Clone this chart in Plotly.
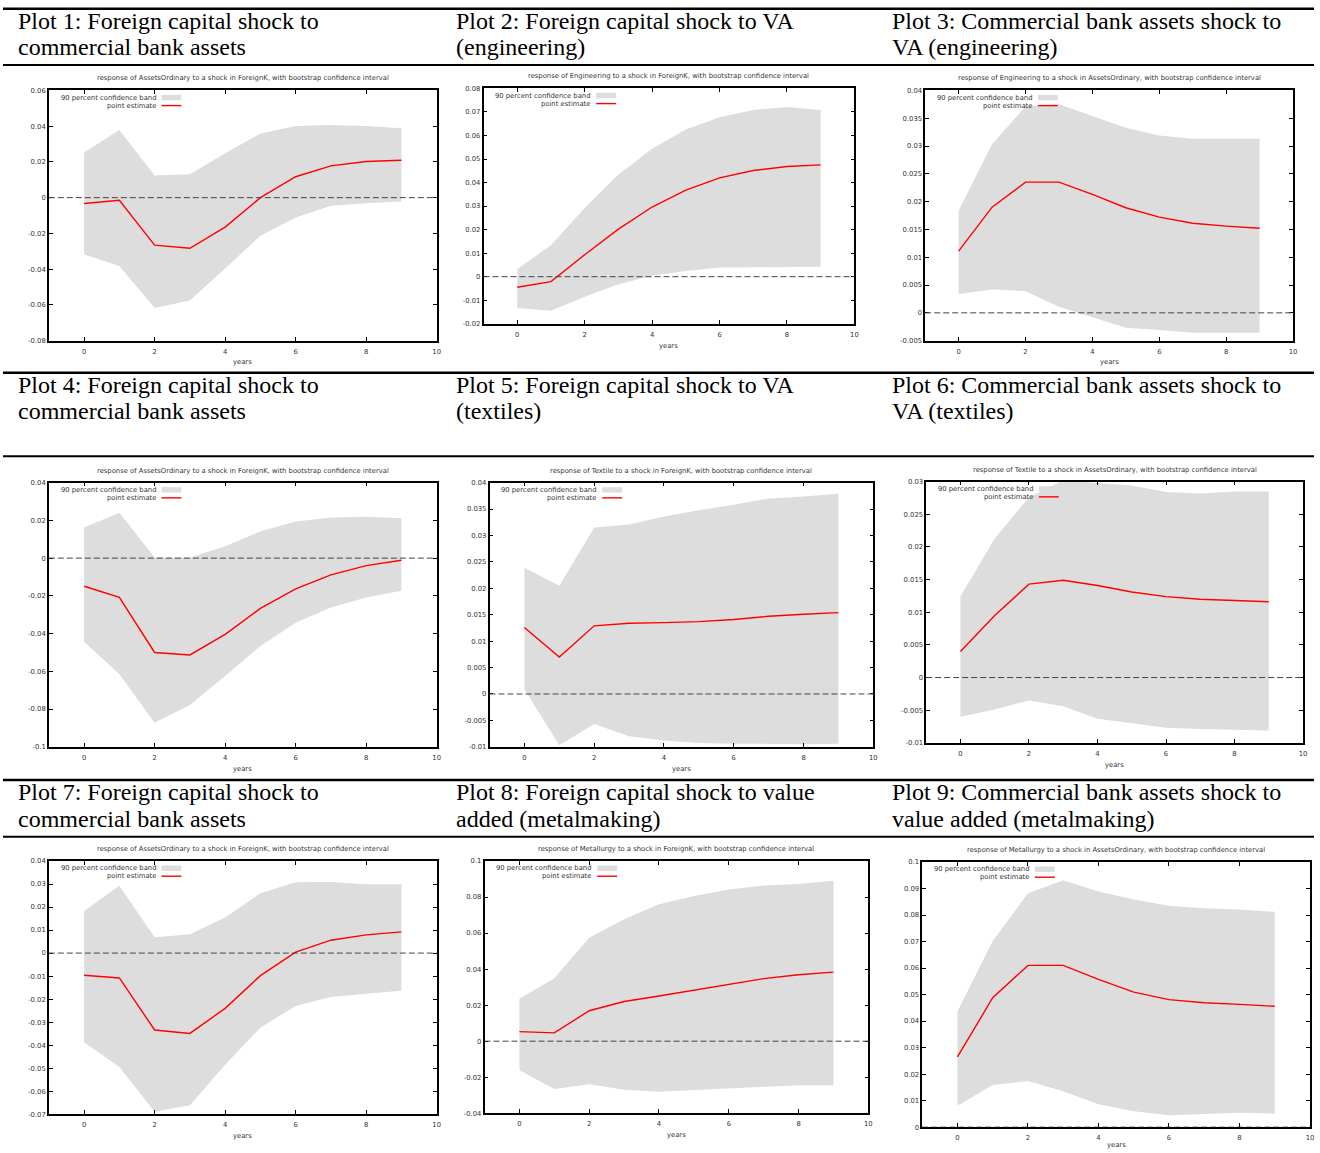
import plotly.graph_objects as go

# impulse responses (years 0..9)
years = [0, 1, 2, 3, 4, 5, 6, 7, 8, 9]

# plot 1: AssetsOrdinary <- ForeignK
p1_est = [-0.0033, -0.0015, -0.0266, -0.0283, -0.0165, 0.0000, 0.0117, 0.0178, 0.0202, 0.0209]
p1_hi = [0.0252, 0.0379, 0.0124, 0.0131, 0.0248, 0.0359, 0.0401, 0.0407, 0.0401, 0.0388]
p1_lo = [-0.0318, -0.0383, -0.0618, -0.0575, -0.0396, -0.0213, -0.0111, -0.0046, -0.0031, -0.0022]
p1_yticks = [-0.08, -0.06, -0.04, -0.02, 0, 0.02, 0.04, 0.06]

# plot 2: Engineering <- ForeignK
p2_est = [-0.0045, -0.0021, 0.0093, 0.0202, 0.0296, 0.0368, 0.0420, 0.0451, 0.0468, 0.0475]
p2_hi = [0.0032, 0.0134, 0.0292, 0.0434, 0.0544, 0.0625, 0.0677, 0.0708, 0.0721, 0.0708]
p2_lo = [-0.0133, -0.0145, -0.0085, -0.0032, 0.0004, 0.0024, 0.0039, 0.0039, 0.0041, 0.0042]
p2_yticks = [-0.02, -0.01, 0, 0.01, 0.02, 0.03, 0.04, 0.05, 0.06, 0.07, 0.08]

# plot 3: Engineering <- AssetsOrdinary
p3_est = [0.0111, 0.0190, 0.0235, 0.0235, 0.0213, 0.0189, 0.0172, 0.0161, 0.0156, 0.0152]
p3_hi = [0.0184, 0.0303, 0.0371, 0.0375, 0.0354, 0.0333, 0.0319, 0.0313, 0.0313, 0.0313]
p3_lo = [0.0034, 0.0042, 0.0039, 0.0011, -0.0008, -0.0027, -0.0031, -0.0036, -0.0036, -0.0036]
p3_yticks = [-0.005, 0, 0.005, 0.01, 0.015, 0.02, 0.025, 0.03, 0.035, 0.04]

# plot 4: AssetsOrdinary <- ForeignK (textile system)
p4_est = [-0.0149, -0.0208, -0.0500, -0.0513, -0.0404, -0.0266, -0.0163, -0.0089, -0.0040, -0.0011]
p4_hi = [0.0163, 0.0240, 0.0004, 0.0004, 0.0063, 0.0142, 0.0194, 0.0215, 0.0219, 0.0212]
p4_lo = [-0.0443, -0.0616, -0.0872, -0.0779, -0.0625, -0.0466, -0.0343, -0.0261, -0.0208, -0.0173]
p4_yticks = [-0.1, -0.08, -0.06, -0.04, -0.02, 0, 0.02, 0.04]

# plot 5: Textile <- ForeignK
p5_est = [0.0126, 0.0070, 0.0129, 0.0134, 0.0135, 0.0137, 0.0141, 0.0147, 0.0151, 0.0154]
p5_hi = [0.0239, 0.0205, 0.0315, 0.0321, 0.0336, 0.0348, 0.0358, 0.0370, 0.0374, 0.0379]
p5_lo = [0.0009, -0.0097, -0.0057, -0.0080, -0.0088, -0.0093, -0.0094, -0.0095, -0.0095, -0.0094]
p5_yticks = [-0.01, -0.005, 0, 0.005, 0.01, 0.015, 0.02, 0.025, 0.03, 0.035, 0.04]

# plot 6: Textile <- AssetsOrdinary
p6_est = [0.0040, 0.0095, 0.0143, 0.0149, 0.0141, 0.0131, 0.0124, 0.0120, 0.0118, 0.0116]
p6_hi = [0.0124, 0.0213, 0.0276, 0.0302, 0.0298, 0.0294, 0.0284, 0.0282, 0.0285, 0.0285]
p6_lo = [-0.0060, -0.0049, -0.0035, -0.0044, -0.0063, -0.0070, -0.0077, -0.0079, -0.0080, -0.0081]
p6_yticks = [-0.01, -0.005, 0, 0.005, 0.01, 0.015, 0.02, 0.025, 0.03]

# plot 7: AssetsOrdinary <- ForeignK (metallurgy system)
p7_est = [-0.0096, -0.0108, -0.0334, -0.0349, -0.0240, -0.0098, 0.0004, 0.0056, 0.0079, 0.0092]
p7_hi = [0.0183, 0.0292, 0.0069, 0.0082, 0.0155, 0.0260, 0.0308, 0.0309, 0.0299, 0.0299]
p7_lo = [-0.0387, -0.0495, -0.0689, -0.0661, -0.0485, -0.0324, -0.0230, -0.0191, -0.0177, -0.0164]
p7_yticks = [-0.07, -0.06, -0.05, -0.04, -0.03, -0.02, -0.01, 0, 0.01, 0.02, 0.03, 0.04]

# plot 8: Metallurgy <- ForeignK
p8_est = [0.0053, 0.0046, 0.0169, 0.0220, 0.0251, 0.0284, 0.0316, 0.0347, 0.0369, 0.0383]
p8_hi = [0.0235, 0.0349, 0.0574, 0.0677, 0.0760, 0.0806, 0.0842, 0.0864, 0.0873, 0.0890]
p8_lo = [-0.0161, -0.0266, -0.0239, -0.0270, -0.0281, -0.0272, -0.0261, -0.0253, -0.0244, -0.0244]
p8_yticks = [-0.04, -0.02, 0, 0.02, 0.04, 0.06, 0.08, 0.1]

# plot 9: Metallurgy <- AssetsOrdinary
p9_est = [0.0265, 0.0488, 0.0610, 0.0610, 0.0557, 0.0509, 0.0481, 0.0469, 0.0463, 0.0456]
p9_hi = [0.0436, 0.0702, 0.0882, 0.0931, 0.0889, 0.0859, 0.0835, 0.0826, 0.0821, 0.0812]
p9_lo = [0.0081, 0.0159, 0.0174, 0.0135, 0.0086, 0.0060, 0.0045, 0.0050, 0.0054, 0.0051]
p9_yticks = [0, 0.01, 0.02, 0.03, 0.04, 0.05, 0.06, 0.07, 0.08, 0.09, 0.1]

xticks = [0, 2, 4, 6, 8, 10]

headers = [
    ("Plot 1: Foreign capital shock to", "commercial bank assets"),
    ("Plot 2: Foreign capital shock to VA", "(engineering)"),
    ("Plot 3: Commercial bank assets shock to", "VA (engineering)"),
    ("Plot 4: Foreign capital shock to", "commercial bank assets"),
    ("Plot 5: Foreign capital shock to VA", "(textiles)"),
    ("Plot 6: Commercial bank assets shock to", "VA (textiles)"),
    ("Plot 7: Foreign capital shock to", "commercial bank assets"),
    ("Plot 8: Foreign capital shock to value", "added (metalmaking)"),
    ("Plot 9: Commercial bank assets shock to", "value added (metalmaking)"),
]

titles = [
    "response of AssetsOrdinary to a shock in ForeignK, with bootstrap confidence interval",
    "response of Engineering to a shock in ForeignK, with bootstrap confidence interval",
    "response of Engineering to a shock in AssetsOrdinary, with bootstrap confidence interval",
    "response of AssetsOrdinary to a shock in ForeignK, with bootstrap confidence interval",
    "response of Textile to a shock in ForeignK, with bootstrap confidence interval",
    "response of Textile to a shock in AssetsOrdinary, with bootstrap confidence interval",
    "response of AssetsOrdinary to a shock in ForeignK, with bootstrap confidence interval",
    "response of Metallurgy to a shock in ForeignK, with bootstrap confidence interval",
    "response of Metallurgy to a shock in AssetsOrdinary, with bootstrap confidence interval",
]

panels = [
    (p1_est, p1_lo, p1_hi, p1_yticks),
    (p2_est, p2_lo, p2_hi, p2_yticks),
    (p3_est, p3_lo, p3_hi, p3_yticks),
    (p4_est, p4_lo, p4_hi, p4_yticks),
    (p5_est, p5_lo, p5_hi, p5_yticks),
    (p6_est, p6_lo, p6_hi, p6_yticks),
    (p7_est, p7_lo, p7_hi, p7_yticks),
    (p8_est, p8_lo, p8_hi, p8_yticks),
    (p9_est, p9_lo, p9_hi, p9_yticks),
]

# page layout in pixels
W, H = 1320, 1153
frames = [  # left, right, top, bottom of each plot frame
    (49, 438, 87, 339), (485, 857, 85, 322), (928, 1297, 87, 339),
    (49, 438, 482, 748), (491, 876, 482, 748), (929, 1307, 481, 744),
    (49, 438, 863, 1118), (486, 871, 863, 1117), (925, 1314, 864, 1131),
]
header_x = [16, 455, 893]
row_rules = [(4.7, 61.5), (371.3, 455.5), (781.5, 838.5)]

def fx(v):
    return v / W

def fy(v):
    return 1 - v / H

small = dict(family="DejaVu Sans", size=6.8, color="#333333")
serif = dict(family="Liberation Serif", size=24, color="black")

fig = go.Figure()
shapes = []
annotations = []

for i, (est, lo, hi, yt) in enumerate(panels):
    n = "" if i == 0 else str(i + 1)
    xa, ya = "x" + n, "y" + n
    l, r, t, b = frames[i]

    fig.add_trace(go.Scatter(x=years, y=lo, xaxis=xa, yaxis=ya, mode="lines",
                             line=dict(width=0, color="#dddddd"), hoverinfo="skip"))
    fig.add_trace(go.Scatter(x=years, y=hi, xaxis=xa, yaxis=ya, mode="lines",
                             fill="tonexty", fillcolor="#dddddd",
                             line=dict(width=0, color="#dddddd"), hoverinfo="skip"))
    fig.add_trace(go.Scatter(x=years, y=est, xaxis=xa, yaxis=ya, mode="lines",
                             line=dict(width=1.4, color="#ff0000")))

    axis_common = dict(
        showline=True, mirror="allticks", linecolor="black", linewidth=1.5,
        ticks="inside", ticklen=4, tickcolor="black", tickwidth=1,
        showgrid=False, zeroline=False, tickfont=small, fixedrange=True,
    )
    fig.update_layout(**{
        "xaxis" + n: dict(axis_common, domain=[fx(l), fx(r)], range=[-1, 10],
                          tickvals=xticks, ticktext=[str(v) for v in xticks],
                          ticklabelstandoff=3, anchor=ya),
        "yaxis" + n: dict(axis_common, domain=[fy(b), fy(t)], range=[yt[0], yt[-1]],
                          tickvals=yt, ticktext=[f"{v:g}" for v in yt],
                          anchor=xa),
    })

    # dashed zero reference
    shapes.append(dict(type="line", xref=xa + " domain", yref=ya, x0=0, x1=1, y0=0, y1=0,
                       line=dict(color="#444444", width=1, dash="6px,3px"), layer="above"))

    # gnuplot-style key, top left
    key_x = l + 109
    annotations.append(dict(text="90 percent confidence band", xref="paper", yref="paper",
                            x=fx(key_x), y=fy(t + 7.3), xanchor="right", yanchor="middle",
                            showarrow=False, font=small))
    annotations.append(dict(text="point estimate", xref="paper", yref="paper",
                            x=fx(key_x), y=fy(t + 15.3), xanchor="right", yanchor="middle",
                            showarrow=False, font=small))
    shapes.append(dict(type="rect", xref="paper", yref="paper", x0=fx(key_x + 4),
                       x1=fx(key_x + 24), y0=fy(t + 10), y1=fy(t + 4.5),
                       fillcolor="#dddddd", line=dict(width=0), layer="above"))
    shapes.append(dict(type="line", xref="paper", yref="paper", x0=fx(key_x + 4),
                       x1=fx(key_x + 24), y0=fy(t + 15.3), y1=fy(t + 15.3),
                       line=dict(color="#ff0000", width=1.4), layer="above"))

    # panel title and x label
    annotations.append(dict(text=titles[i], xref="paper", yref="paper", x=fx((l + r) / 2),
                            y=fy(t - 12), xanchor="center", yanchor="middle",
                            showarrow=False, font=small))
    annotations.append(dict(text="years", xref="paper", yref="paper", x=fx((l + r) / 2),
                            y=fy(min(b + 22, 1149)), xanchor="center", yanchor="middle",
                            showarrow=False, font=small))

    # table header text, two lines
    row, col = divmod(i, 3)
    for k, line in enumerate(headers[i]):
        annotations.append(dict(text=line, xref="paper", yref="paper",
                                x=fx(header_x[col]), y=fy(row_rules[row][0] + 12 + 27 * k),
                                xanchor="left", yanchor="middle", showarrow=False,
                                font=serif))

# table rules
for top, bottom in row_rules:
    for yy, w in ((top, 2.5), (bottom, 2)):
        shapes.append(dict(type="line", xref="paper", yref="paper", x0=fx(3), x1=fx(1318),
                           y0=fy(yy), y1=fy(yy), line=dict(color="black", width=w)))

fig.update_layout(
    width=W, height=H,
    margin=dict(l=0, r=0, t=0, b=0),
    paper_bgcolor="white", plot_bgcolor="white",
    showlegend=False,
    shapes=shapes,
    annotations=annotations,
)

# drop the default page margin so the figure sits at the window corner
fig.write_html("out.html", config={"displayModeBar": False},
               post_script="document.body.style.margin='0';")
